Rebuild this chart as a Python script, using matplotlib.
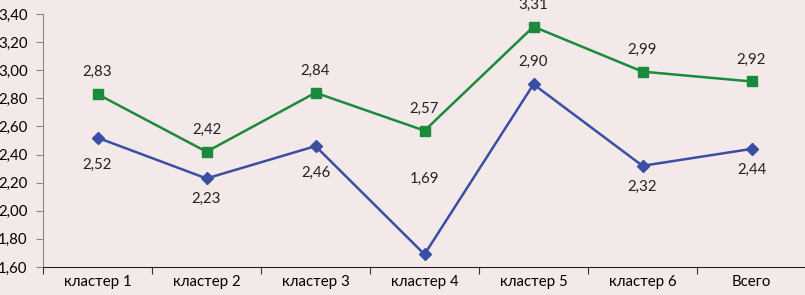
import matplotlib
matplotlib.use("Agg")
import matplotlib.pyplot as plt
from matplotlib.ticker import FuncFormatter, FixedLocator, NullFormatter

categories = ["кластер 1", "кластер 2", "кластер 3", "кластер 4", "кластер 5", "кластер 6", "Всего"]
green_vals = [2.83, 2.42, 2.84, 2.57, 3.31, 2.99, 2.92]
blue_vals = [2.52, 2.23, 2.46, 1.69, 2.90, 2.32, 2.44]

# label offsets (pixels) - styling
green_off = [22, 22, 22, 22, 22, 22, 22]
blue_off = [-27, -20, -27, 75, 22, -21, -21]

plt.rcParams['font.family'] = ['Lato', 'DejaVu Sans']
bg = '#f3e9e8'
fig = plt.figure(figsize=(8.05, 2.95), dpi=100, facecolor=bg)
ax = fig.add_axes([43/805, 1-267/295, 763/805, (267-14)/295], facecolor=bg)

x = list(range(len(categories)))
green = '#1b8a3c'
blue = '#3a4ea3'
ax.plot(x, green_vals, color=green, lw=1.8, marker='s', ms=7, mfc=green, mec=green, zorder=3)
ax.plot(x, blue_vals, color=blue, lw=1.8, marker='D', ms=6.5, mfc=blue, mec=blue, zorder=3)

fs = 10.8
fmt = lambda v: f"{v:.2f}".replace('.', ',')
for i, v in enumerate(green_vals):
    ax.annotate(fmt(v), (i, v), xytext=(0, green_off[i]), textcoords='offset pixels',
                ha='center', va='center', fontsize=fs, color='#222222')
for i, v in enumerate(blue_vals):
    ax.annotate(fmt(v), (i, v), xytext=(0, blue_off[i]), textcoords='offset pixels',
                ha='center', va='center', fontsize=fs, color='#222222')

ax.set_xlim(-0.5, len(categories) - 0.5)
ax.set_ylim(1.6, 3.4)
ax.set_yticks([1.6 + 0.2 * k for k in range(10)])
ax.yaxis.set_major_formatter(FuncFormatter(lambda v, p: fmt(v)))
ax.xaxis.set_major_locator(FixedLocator([i + 0.5 for i in range(-1, len(categories))]))
ax.xaxis.set_major_formatter(NullFormatter())
ax.xaxis.set_minor_locator(FixedLocator(x))
ax.set_xticklabels(categories, minor=True)
ax.tick_params(axis='x', which='minor', length=0, labelsize=fs, pad=6)
ax.tick_params(axis='x', which='major', length=5, direction='out', color='#333333')
ax.tick_params(axis='y', length=5, direction='out', labelsize=fs, color='#888888', pad=6)
for s in ['top', 'right']:
    ax.spines[s].set_visible(False)
ax.spines['left'].set_color('#888888')
ax.spines['bottom'].set_color('#222222')

fig.savefig('out.png', dpi=100, facecolor=bg)
